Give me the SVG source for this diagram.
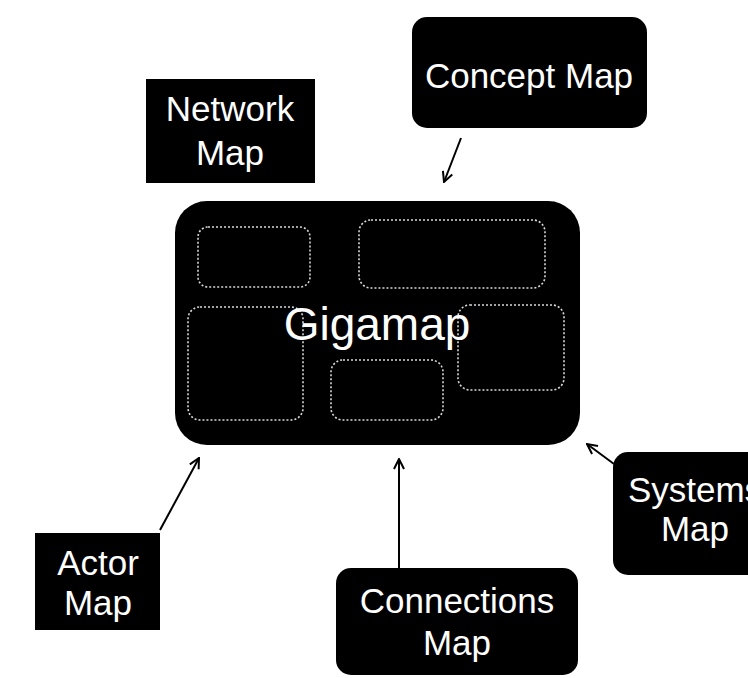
<svg xmlns="http://www.w3.org/2000/svg" width="748" height="678" viewBox="0 0 748 678">
<defs>
<style>
.box{fill:#000;}
.lbl{fill:#fff;font-family:"Liberation Sans",Arial,sans-serif;font-size:35px;text-anchor:middle;}
.big{font-size:46px;}
.dash{fill:none;stroke:#d8d8d8;stroke-width:1.6;stroke-dasharray:2 2;}
.conn{fill:none;stroke:#000;stroke-width:2;marker-end:url(#ah);}
</style>
<marker id="ah" viewBox="0 0 12 12" refX="11" refY="6" markerWidth="12" markerHeight="12" markerUnits="userSpaceOnUse" orient="auto">
<path d="M1,1 L11,6 L1,11" fill="none" stroke="#000" stroke-width="2"/>
</marker>
</defs>
<rect width="748" height="678" fill="#fff"/>
<g id="connectors">
<line class="conn" x1="461" y1="138" x2="444" y2="182"/>
<line class="conn" x1="160" y1="530" x2="199" y2="458"/>
<line class="conn" x1="399" y1="568" x2="399" y2="459"/>
<line class="conn" x1="614" y1="464" x2="587" y2="444"/>
</g>
<g id="gigamap">
<rect class="box" x="175" y="201" width="405" height="244" rx="32"/>
<rect class="dash" x="198" y="227" width="112" height="60" rx="10"/>
<rect class="dash" x="359" y="220" width="186" height="68" rx="12"/>
<rect class="dash" x="188" y="307" width="115" height="113" rx="12"/>
<rect class="dash" x="331" y="360" width="112" height="60" rx="12"/>
<rect class="dash" x="458" y="305" width="106" height="85" rx="12"/>
<text class="lbl big" x="377" y="340">Gigamap</text>
</g>
<g id="concept-map">
<rect class="box" x="412" y="17" width="235" height="111" rx="15"/>
<text class="lbl" x="529" y="88">Concept Map</text>
</g>
<g id="network-map">
<rect class="box" x="146" y="79" width="169" height="104"/>
<text class="lbl" x="230" y="121">Network</text>
<text class="lbl" x="230" y="165">Map</text>
</g>
<g id="actor-map">
<rect class="box" x="35" y="533" width="125" height="97"/>
<text class="lbl" x="98" y="575">Actor</text>
<text class="lbl" x="98" y="615">Map</text>
</g>
<g id="connections-map">
<rect class="box" x="336" y="568" width="242" height="107" rx="15"/>
<text class="lbl" x="457" y="613">Connections</text>
<text class="lbl" x="457" y="655">Map</text>
</g>
<g id="systems-map">
<rect class="box" x="613" y="452" width="160" height="123" rx="15"/>
<text class="lbl" x="695" y="502">Systems</text>
<text class="lbl" x="695" y="541">Map</text>
</g>
</svg>
